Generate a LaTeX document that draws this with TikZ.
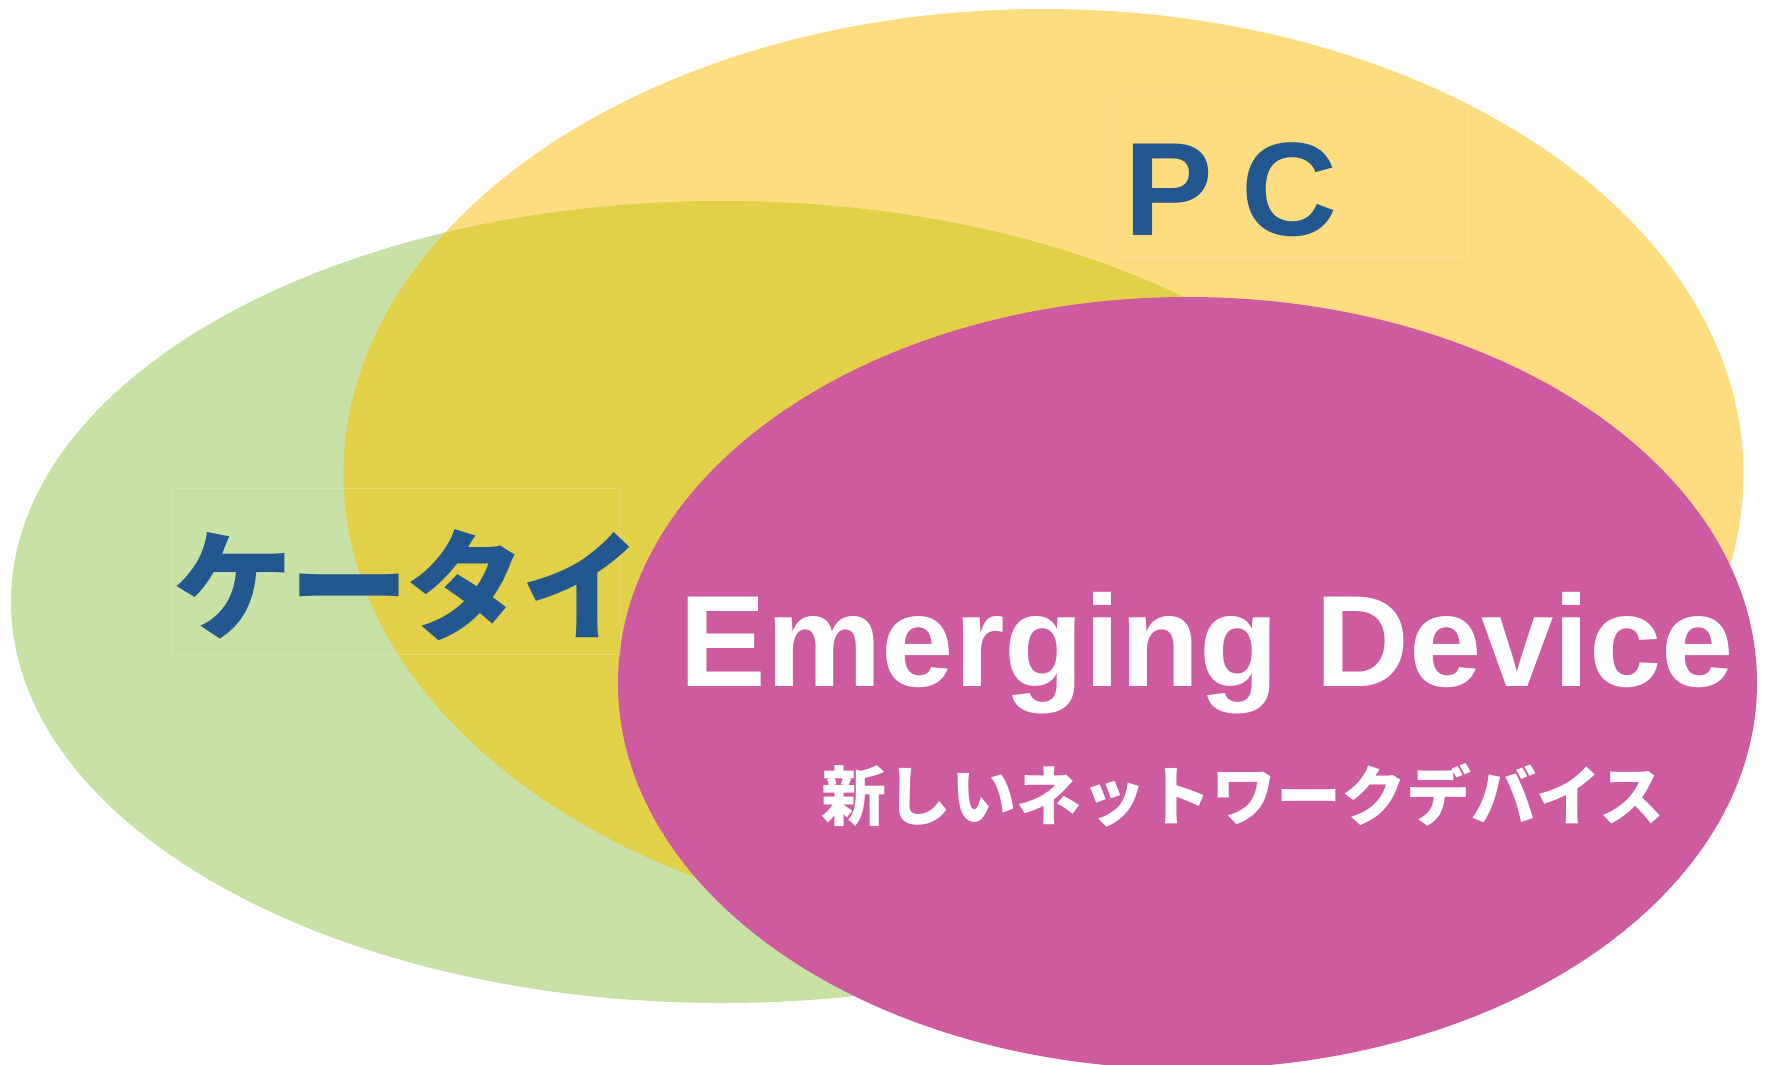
\documentclass[tikz,border=0pt]{standalone}
\usepackage{fontspec}
\setmainfont{Liberation Sans}
\newfontfamily\cjk{Noto Sans CJK JP}
\definecolor{pcyellow}{HTML}{FDDD7F}
\definecolor{ktgreen}{HTML}{C8E1A5}
\definecolor{overlap}{HTML}{E2D148}
\definecolor{edpink}{HTML}{CE5AA0}
\definecolor{lblblue}{HTML}{22578F}
\begin{document}
\begin{tikzpicture}[x=1pt,y=-1pt,
  faintbox/.style={draw=white,opacity=0.18,line width=0.8pt},
  lbl/.style={inner sep=0pt,outer sep=0pt}]
\useasboundingbox (0,0) rectangle (1769,1065);
% ellipses
\fill[pcyellow] (1043.5,474) ellipse [x radius=700, y radius=465];
\fill[ktgreen] (722,602) ellipse [x radius=711, y radius=401];
\begin{scope}
  \clip (722,602) ellipse [x radius=711, y radius=401];
  \fill[overlap] (1043.5,474) ellipse [x radius=700, y radius=465];
\end{scope}
\fill[edpink] (1187.5,683) ellipse [x radius=569.5, y radius=386];
% faint text frames
\draw[faintbox] (1114,91) rectangle (1467,257);
\draw[faintbox] (172,488) rectangle (620,654);
% labels
\node[lbl,anchor=base west,text=lblblue,font=\bfseries\fontsize{133}{133}\selectfont] (pc) at (1124,235) {P\hspace{-8pt} C};
\node[lbl,anchor=base west,text=lblblue,font=\cjk\bfseries\fontsize{120}{120}\selectfont] (kt) at (173,631) {ケ\hspace{-4pt}ー\hspace{-4pt}タ\hspace{-4pt}イ};
\node[lbl,anchor=base,text=white,font=\bfseries\fontsize{130}{130}\selectfont] (ed) at (1207,686) {Emerging Device};
\node[lbl,anchor=base,text=white,font=\cjk\bfseries\fontsize{65}{65}\selectfont] (jp) at (1243,820) {新しいネットワークデバイス};
\end{tikzpicture}
\end{document}
